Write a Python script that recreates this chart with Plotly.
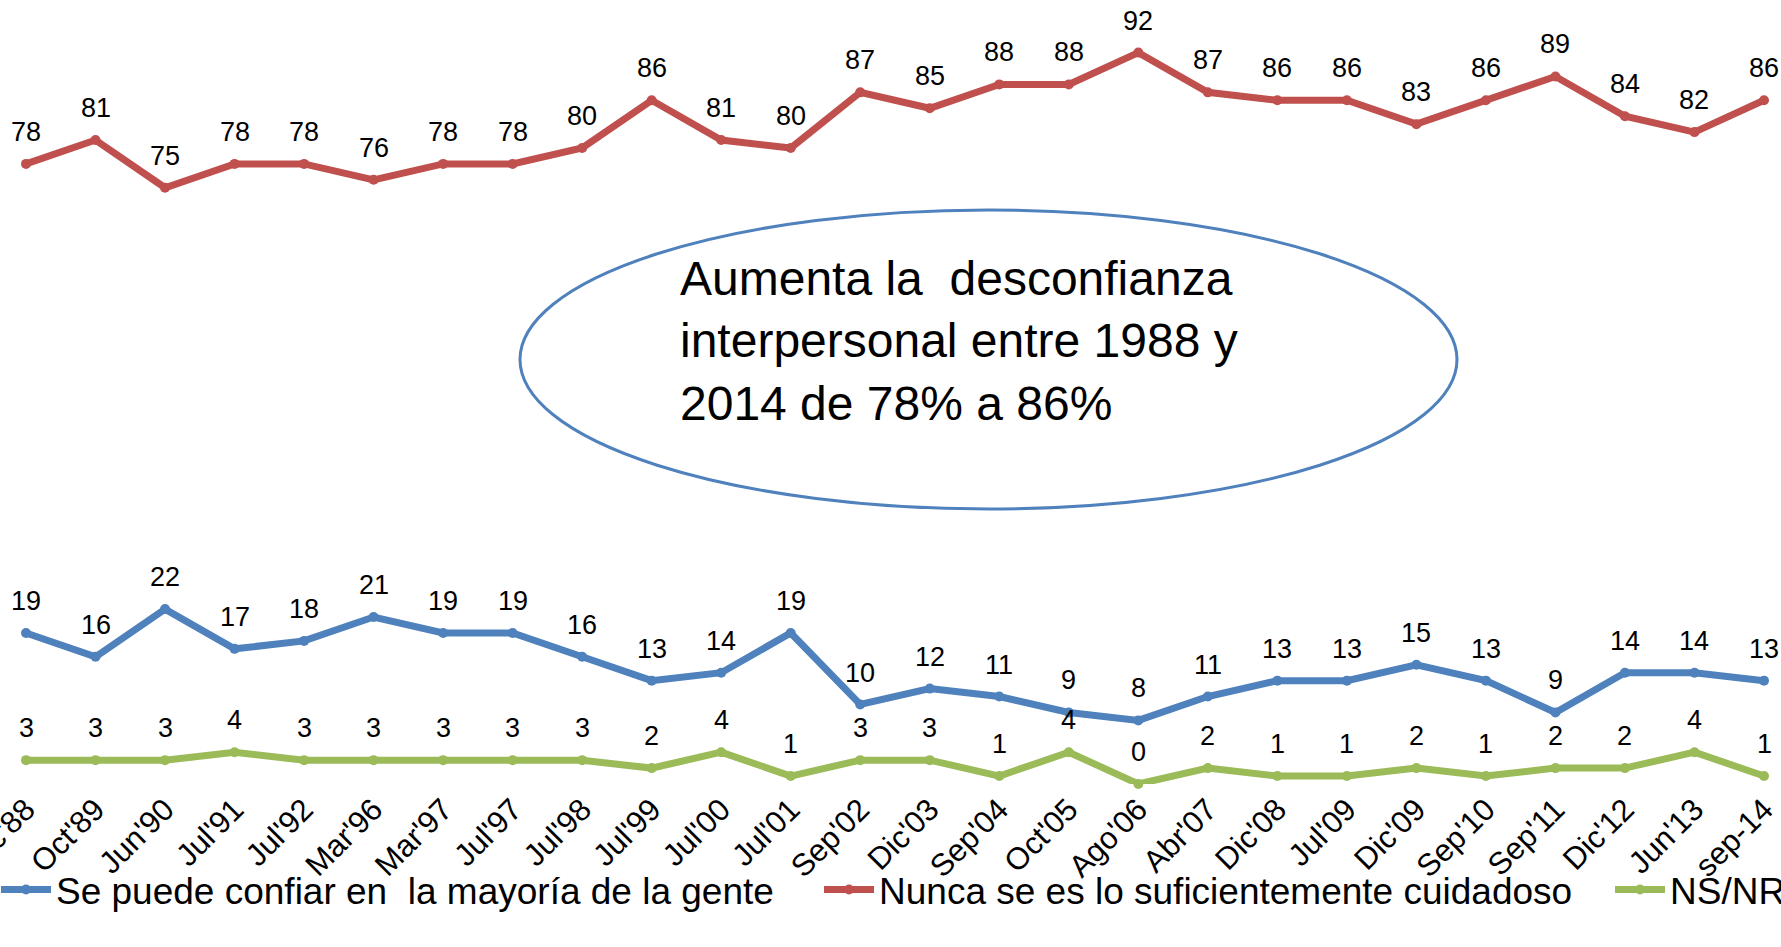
import plotly.graph_objects as go

categories = ["Dic'88", "Oct'89", "Jun'90", "Jul'91", "Jul'92", "Mar'96", "Mar'97", "Jul'97",
              "Jul'98", "Jul'99", "Jul'00", "Jul'01", "Sep'02", "Dic'03", "Sep'04", "Oct'05",
              "Ago'06", "Abr'07", "Dic'08", "Jul'09", "Dic'09", "Sep'10", "Sep'11", "Dic'12",
              "Jun'13", "sep-14"]
confiar = [19, 16, 22, 17, 18, 21, 19, 19, 16, 13, 14, 19, 10, 12, 11, 9, 8, 11, 13, 13, 15, 13, 9, 14, 14, 13]
cuidadoso = [78, 81, 75, 78, 78, 76, 78, 78, 80, 86, 81, 80, 87, 85, 88, 88, 92, 87, 86, 86, 83, 86, 89, 84, 82, 86]
nsnr = [3, 3, 3, 4, 3, 3, 3, 3, 3, 2, 4, 1, 3, 3, 1, 4, 0, 2, 1, 1, 2, 1, 2, 2, 4, 1]

series_names = ["Se puede confiar en\u00a0 la mayoría de la gente",
                "Nunca se es lo suficientemente cuidadoso",
                "NS/NR"]
series_values = [confiar, cuidadoso, nsnr]
series_colors = ["#4F81BD", "#C0504D", "#9BBB59"]
legend_ids = ["legend", "legend2", "legend3"]

W, H = 1781, 947
plot_bottom = 784
FONT = "Arial, Liberation Sans, sans-serif"

fig = go.Figure()
for name, vals, col, lg in zip(series_names, series_values, series_colors, legend_ids):
    fig.add_trace(go.Scatter(
        x=categories, y=vals, name=name, mode="lines+markers",
        line=dict(color=col, width=7), marker=dict(color=col, size=10),
        cliponaxis=False, legend=lg))

annotations = []
for vals in series_values:
    for c, v in zip(categories, vals):
        annotations.append(dict(x=c, y=v, xref="x", yref="y", text=str(v), showarrow=False,
                                yshift=32, font=dict(size=27, color="#000000", family=FONT)))

annotations.append(dict(
    x=678 / W, y=(plot_bottom - 341) / plot_bottom, xref="paper", yref="paper",
    xanchor="left", yanchor="middle", align="left", showarrow=False,
    text="Aumenta la\u00a0 desconfianza<br>interpersonal entre 1988 y<br>2014 de 78% a 86%",
    font=dict(size=48, color="#000000", family=FONT)))

shapes = [dict(type="circle", xref="paper", yref="paper",
               x0=520 / W, x1=1457 / W,
               y0=(plot_bottom - 509) / plot_bottom, y1=(plot_bottom - 210) / plot_bottom,
               line=dict(color="#4F81BD", width=3), fillcolor="rgba(0,0,0,0)")]

legend_text_x = [61, 884, 1675]
leg_y = (plot_bottom - 890) / plot_bottom
legend_common = dict(orientation="h", yanchor="middle", xanchor="left", bgcolor="rgba(0,0,0,0)",
                     itemwidth=50, font=dict(size=37, color="#000000", family=FONT))

x_per = (1764 - 26) / 25
x_lo = -26 / x_per
x_hi = 25 + (W - 1764) / x_per

fig.update_layout(
    width=W, height=H,
    margin=dict(l=0, r=0, t=0, b=H - plot_bottom, pad=0, autoexpand=False),
    paper_bgcolor="white", plot_bgcolor="white",
    showlegend=True,
    legend=dict(x=(legend_text_x[0] - 65) / W, y=leg_y, **legend_common),
    legend2=dict(x=(legend_text_x[1] - 65) / W, y=leg_y, **legend_common),
    legend3=dict(x=(legend_text_x[2] - 65) / W, y=leg_y, **legend_common),
    xaxis=dict(type="category", range=[x_lo, x_hi], showgrid=False, zeroline=False,
               showline=False, ticks="", tickangle=-45, automargin=False,
               tickfont=dict(size=31, color="#000000", family=FONT)),
    yaxis=dict(range=[0, plot_bottom / 7.95], visible=False, showgrid=False, zeroline=False,
               automargin=False),
    annotations=annotations, shapes=shapes,
)

fig.write_html("out.html", config={"displayModeBar": False},
               post_script="document.body.style.margin='0';")
